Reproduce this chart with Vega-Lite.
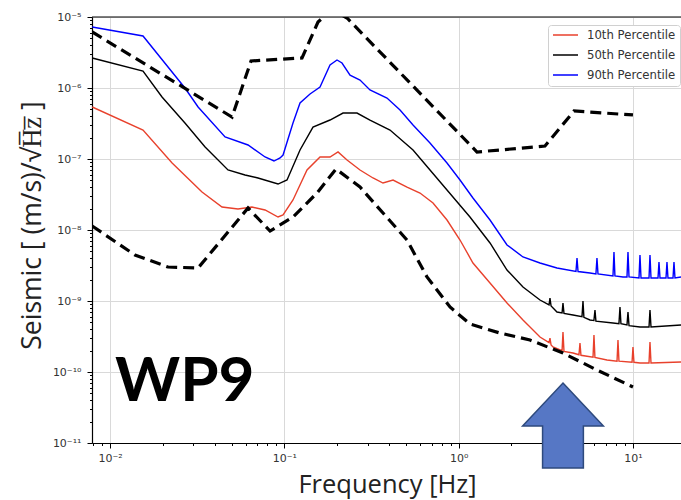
{
  "$schema": "https://vega.github.io/schema/vega-lite/v6.json",
  "width": 589,
  "height": 426,
  "autosize": {"type": "none"},
  "padding": {"left": 92, "top": 17, "right": 0, "bottom": 57},
  "config": {"view": {"stroke": null}, "font": "DejaVu Sans"},
  "datasets": {
    "pct": [
      {"f": 0.0079, "v": 7.23e-6, "s": "90th Percentile"},
      {"f": 0.01546, "v": 5.4e-6, "s": "90th Percentile"},
      {"f": 0.0269, "v": 1.0e-6, "s": "90th Percentile"},
      {"f": 0.032, "v": 5.4e-7, "s": "90th Percentile"},
      {"f": 0.0457, "v": 2.04e-7, "s": "90th Percentile"},
      {"f": 0.0619, "v": 1.575e-7, "s": "90th Percentile"},
      {"f": 0.0775, "v": 1.067e-7, "s": "90th Percentile"},
      {"f": 0.0872, "v": 9.37e-8, "s": "90th Percentile"},
      {"f": 0.0945, "v": 1.033e-7, "s": "90th Percentile"},
      {"f": 0.0983, "v": 1.138e-7, "s": "90th Percentile"},
      {"f": 0.1121, "v": 3.21e-7, "s": "90th Percentile"},
      {"f": 0.123, "v": 6.15e-7, "s": "90th Percentile"},
      {"f": 0.1404, "v": 8.23e-7, "s": "90th Percentile"},
      {"f": 0.1602, "v": 1.033e-6, "s": "90th Percentile"},
      {"f": 0.1828, "v": 2.11e-6, "s": "90th Percentile"},
      {"f": 0.2005, "v": 2.48e-6, "s": "90th Percentile"},
      {"f": 0.2142, "v": 2.25e-6, "s": "90th Percentile"},
      {"f": 0.2381, "v": 1.52e-6, "s": "90th Percentile"},
      {"f": 0.2717, "v": 1.296e-6, "s": "90th Percentile"},
      {"f": 0.3099, "v": 9.37e-7, "s": "90th Percentile"},
      {"f": 0.388, "v": 7.23e-7, "s": "90th Percentile"},
      {"f": 0.4609, "v": 4.9e-7, "s": "90th Percentile"},
      {"f": 0.5472, "v": 3.01e-7, "s": "90th Percentile"},
      {"f": 0.6848, "v": 1.68e-7, "s": "90th Percentile"},
      {"f": 0.8573, "v": 8.78e-8, "s": "90th Percentile"},
      {"f": 1.018, "v": 5.06e-8, "s": "90th Percentile"},
      {"f": 1.208, "v": 2.82e-8, "s": "90th Percentile"},
      {"f": 1.513, "v": 1.383e-8, "s": "90th Percentile"},
      {"f": 1.894, "v": 6.15e-9, "s": "90th Percentile"},
      {"f": 2.339, "v": 4.17e-9, "s": "90th Percentile"},
      {"f": 2.928, "v": 3.43e-9, "s": "90th Percentile"},
      {"f": 3.665, "v": 2.92e-9, "s": "90th Percentile"},
      {"f": 4.71, "v": 2.6e-9, "s": "90th Percentile"},
      {"f": 4.775, "v": 4.03e-9, "s": "90th Percentile"},
      {"f": 4.84, "v": 2.6e-9, "s": "90th Percentile"},
      {"f": 5.667, "v": 2.48e-9, "s": "90th Percentile"},
      {"f": 6.13, "v": 2.4e-9, "s": "90th Percentile"},
      {"f": 6.215, "v": 4.03e-9, "s": "90th Percentile"},
      {"f": 6.3, "v": 2.4e-9, "s": "90th Percentile"},
      {"f": 7.68, "v": 2.25e-9, "s": "90th Percentile"},
      {"f": 7.781, "v": 4.9e-9, "s": "90th Percentile"},
      {"f": 7.88, "v": 2.25e-9, "s": "90th Percentile"},
      {"f": 8.764, "v": 2.18e-9, "s": "90th Percentile"},
      {"f": 9.24, "v": 2.18e-9, "s": "90th Percentile"},
      {"f": 9.363, "v": 4.9e-9, "s": "90th Percentile"},
      {"f": 9.49, "v": 2.18e-9, "s": "90th Percentile"},
      {"f": 10.83, "v": 2.11e-9, "s": "90th Percentile"},
      {"f": 10.97, "v": 4.44e-9, "s": "90th Percentile"},
      {"f": 11.12, "v": 2.11e-9, "s": "90th Percentile"},
      {"f": 12.36, "v": 2.11e-9, "s": "90th Percentile"},
      {"f": 12.52, "v": 4.44e-9, "s": "90th Percentile"},
      {"f": 12.69, "v": 2.11e-9, "s": "90th Percentile"},
      {"f": 13.92, "v": 2.11e-9, "s": "90th Percentile"},
      {"f": 14.1, "v": 3.54e-9, "s": "90th Percentile"},
      {"f": 14.29, "v": 2.11e-9, "s": "90th Percentile"},
      {"f": 15.47, "v": 2.11e-9, "s": "90th Percentile"},
      {"f": 15.67, "v": 3.54e-9, "s": "90th Percentile"},
      {"f": 15.88, "v": 2.11e-9, "s": "90th Percentile"},
      {"f": 16.97, "v": 2.11e-9, "s": "90th Percentile"},
      {"f": 17.19, "v": 3.54e-9, "s": "90th Percentile"},
      {"f": 17.42, "v": 2.11e-9, "s": "90th Percentile"},
      {"f": 18.86, "v": 2.18e-9, "s": "90th Percentile"},

      {"f": 0.0079, "v": 2.65e-6, "s": "50th Percentile"},
      {"f": 0.01546, "v": 1.735e-6, "s": "50th Percentile"},
      {"f": 0.01987, "v": 7.47e-7, "s": "50th Percentile"},
      {"f": 0.0269, "v": 3.21e-7, "s": "50th Percentile"},
      {"f": 0.0351, "v": 1.476e-7, "s": "50th Percentile"},
      {"f": 0.0475, "v": 7.0e-8, "s": "50th Percentile"},
      {"f": 0.0595, "v": 5.95e-8, "s": "50th Percentile"},
      {"f": 0.0706, "v": 5.4e-8, "s": "50th Percentile"},
      {"f": 0.092, "v": 4.44e-8, "s": "50th Percentile"},
      {"f": 0.1036, "v": 5.06e-8, "s": "50th Percentile"},
      {"f": 0.123, "v": 1.339e-7, "s": "50th Percentile"},
      {"f": 0.146, "v": 2.82e-7, "s": "50th Percentile"},
      {"f": 0.1828, "v": 3.54e-7, "s": "50th Percentile"},
      {"f": 0.2171, "v": 4.44e-7, "s": "50th Percentile"},
      {"f": 0.2611, "v": 4.44e-7, "s": "50th Percentile"},
      {"f": 0.3099, "v": 3.54e-7, "s": "50th Percentile"},
      {"f": 0.4037, "v": 2.56e-7, "s": "50th Percentile"},
      {"f": 0.5472, "v": 1.339e-7, "s": "50th Percentile"},
      {"f": 0.6848, "v": 7.0e-8, "s": "50th Percentile"},
      {"f": 0.8573, "v": 3.66e-8, "s": "50th Percentile"},
      {"f": 1.161, "v": 1.524e-8, "s": "50th Percentile"},
      {"f": 1.513, "v": 6.56e-9, "s": "50th Percentile"},
      {"f": 1.894, "v": 2.73e-9, "s": "50th Percentile"},
      {"f": 2.339, "v": 1.575e-9, "s": "50th Percentile"},
      {"f": 2.928, "v": 1.033e-9, "s": "50th Percentile"},
      {"f": 3.3, "v": 8.8e-10, "s": "50th Percentile"},
      {"f": 3.341, "v": 1.1e-9, "s": "50th Percentile"},
      {"f": 3.39, "v": 8.5e-10, "s": "50th Percentile"},
      {"f": 3.665, "v": 7.0e-10, "s": "50th Percentile"},
      {"f": 3.92, "v": 6.8e-10, "s": "50th Percentile"},
      {"f": 3.967, "v": 9.37e-10, "s": "50th Percentile"},
      {"f": 4.02, "v": 6.7e-10, "s": "50th Percentile"},
      {"f": 4.529, "v": 6.35e-10, "s": "50th Percentile"},
      {"f": 5.1, "v": 6.0e-10, "s": "50th Percentile"},
      {"f": 5.167, "v": 1.0e-9, "s": "50th Percentile"},
      {"f": 5.23, "v": 5.9e-10, "s": "50th Percentile"},
      {"f": 5.667, "v": 5.4e-10, "s": "50th Percentile"},
      {"f": 5.97, "v": 5.3e-10, "s": "50th Percentile"},
      {"f": 6.054, "v": 7.47e-10, "s": "50th Percentile"},
      {"f": 6.13, "v": 5.2e-10, "s": "50th Percentile"},
      {"f": 7.68, "v": 4.9e-10, "s": "50th Percentile"},
      {"f": 8.31, "v": 4.8e-10, "s": "50th Percentile"},
      {"f": 8.423, "v": 8.23e-10, "s": "50th Percentile"},
      {"f": 8.53, "v": 4.8e-10, "s": "50th Percentile"},
      {"f": 9.24, "v": 4.6e-10, "s": "50th Percentile"},
      {"f": 9.363, "v": 7.0e-10, "s": "50th Percentile"},
      {"f": 9.49, "v": 4.5e-10, "s": "50th Percentile"},
      {"f": 10.97, "v": 4.3e-10, "s": "50th Percentile"},
      {"f": 12.36, "v": 4.3e-10, "s": "50th Percentile"},
      {"f": 12.52, "v": 7.47e-10, "s": "50th Percentile"},
      {"f": 12.69, "v": 4.3e-10, "s": "50th Percentile"},
      {"f": 18.86, "v": 4.59e-10, "s": "50th Percentile"},

      {"f": 0.0079, "v": 5.4e-7, "s": "10th Percentile"},
      {"f": 0.01546, "v": 2.56e-7, "s": "10th Percentile"},
      {"f": 0.0227, "v": 8.78e-8, "s": "10th Percentile"},
      {"f": 0.0337, "v": 3.43e-8, "s": "10th Percentile"},
      {"f": 0.0439, "v": 2.11e-8, "s": "10th Percentile"},
      {"f": 0.0542, "v": 1.976e-8, "s": "10th Percentile"},
      {"f": 0.0652, "v": 2.11e-8, "s": "10th Percentile"},
      {"f": 0.0775, "v": 1.913e-8, "s": "10th Percentile"},
      {"f": 0.092, "v": 1.524e-8, "s": "10th Percentile"},
      {"f": 0.0983, "v": 1.626e-8, "s": "10th Percentile"},
      {"f": 0.1121, "v": 2.65e-8, "s": "10th Percentile"},
      {"f": 0.1349, "v": 7.0e-8, "s": "10th Percentile"},
      {"f": 0.1602, "v": 1.067e-7, "s": "10th Percentile"},
      {"f": 0.1828, "v": 1.067e-7, "s": "10th Percentile"},
      {"f": 0.2032, "v": 1.255e-7, "s": "10th Percentile"},
      {"f": 0.2289, "v": 9.68e-8, "s": "10th Percentile"},
      {"f": 0.2717, "v": 7.0e-8, "s": "10th Percentile"},
      {"f": 0.3226, "v": 5.4e-8, "s": "10th Percentile"},
      {"f": 0.3681, "v": 4.59e-8, "s": "10th Percentile"},
      {"f": 0.4203, "v": 5.06e-8, "s": "10th Percentile"},
      {"f": 0.5055, "v": 4.03e-8, "s": "10th Percentile"},
      {"f": 0.6001, "v": 3.32e-8, "s": "10th Percentile"},
      {"f": 0.7127, "v": 2.4e-8, "s": "10th Percentile"},
      {"f": 0.8573, "v": 1.383e-8, "s": "10th Percentile"},
      {"f": 1.018, "v": 7.23e-9, "s": "10th Percentile"},
      {"f": 1.208, "v": 3.43e-9, "s": "10th Percentile"},
      {"f": 1.513, "v": 1.79e-9, "s": "10th Percentile"},
      {"f": 1.894, "v": 9.37e-10, "s": "10th Percentile"},
      {"f": 2.339, "v": 5.4e-10, "s": "10th Percentile"},
      {"f": 2.928, "v": 3.11e-10, "s": "10th Percentile"},
      {"f": 3.3, "v": 2.6e-10, "s": "10th Percentile"},
      {"f": 3.341, "v": 3.01e-10, "s": "10th Percentile"},
      {"f": 3.39, "v": 2.4e-10, "s": "10th Percentile"},
      {"f": 3.476, "v": 2.25e-10, "s": "10th Percentile"},
      {"f": 3.92, "v": 2.0e-10, "s": "10th Percentile"},
      {"f": 3.967, "v": 3.66e-10, "s": "10th Percentile"},
      {"f": 4.02, "v": 1.95e-10, "s": "10th Percentile"},
      {"f": 4.529, "v": 1.85e-10, "s": "10th Percentile"},
      {"f": 4.9, "v": 1.75e-10, "s": "10th Percentile"},
      {"f": 4.966, "v": 2.56e-10, "s": "10th Percentile"},
      {"f": 5.03, "v": 1.72e-10, "s": "10th Percentile"},
      {"f": 5.9, "v": 1.62e-10, "s": "10th Percentile"},
      {"f": 5.974, "v": 3.32e-10, "s": "10th Percentile"},
      {"f": 6.05, "v": 1.6e-10, "s": "10th Percentile"},
      {"f": 7.094, "v": 1.476e-10, "s": "10th Percentile"},
      {"f": 8.1, "v": 1.42e-10, "s": "10th Percentile"},
      {"f": 8.204, "v": 2.82e-10, "s": "10th Percentile"},
      {"f": 8.31, "v": 1.42e-10, "s": "10th Percentile"},
      {"f": 9.88, "v": 1.37e-10, "s": "10th Percentile"},
      {"f": 10.0, "v": 2.25e-10, "s": "10th Percentile"},
      {"f": 10.13, "v": 1.37e-10, "s": "10th Percentile"},
      {"f": 10.97, "v": 1.339e-10, "s": "10th Percentile"},
      {"f": 12.36, "v": 1.34e-10, "s": "10th Percentile"},
      {"f": 12.52, "v": 2.65e-10, "s": "10th Percentile"},
      {"f": 12.69, "v": 1.34e-10, "s": "10th Percentile"},
      {"f": 18.86, "v": 1.383e-10, "s": "10th Percentile"}
    ],
    "model": [
      {"f": 0.0079, "v": 6.15e-6, "m": "high"},
      {"f": 0.0501, "v": 3.9e-7, "m": "high"},
      {"f": 0.0644, "v": 2.4e-6, "m": "high"},
      {"f": 0.1263, "v": 2.65e-6, "m": "high"},
      {"f": 0.156, "v": 8.5e-6, "m": "high"},
      {"f": 0.1757, "v": 1.1e-5, "m": "high"},
      {"f": 0.2086, "v": 1.1e-5, "m": "high"},
      {"f": 0.2289, "v": 9.68e-6, "m": "high"},
      {"f": 1.274, "v": 1.255e-7, "m": "high"},
      {"f": 3.128, "v": 1.524e-7, "m": "high"},
      {"f": 4.589, "v": 4.74e-7, "m": "high"},
      {"f": 10.0, "v": 4.17e-7, "m": "high"},
      {"f": 0.0079, "v": 1.138e-8, "m": "low"},
      {"f": 0.0139, "v": 4.44e-9, "m": "low"},
      {"f": 0.0215, "v": 3.01e-9, "m": "low"},
      {"f": 0.032, "v": 2.92e-9, "m": "low"},
      {"f": 0.0619, "v": 2.04e-8, "m": "low"},
      {"f": 0.0828, "v": 9.68e-9, "m": "low"},
      {"f": 0.1121, "v": 1.524e-8, "m": "low"},
      {"f": 0.1539, "v": 3.32e-8, "m": "low"},
      {"f": 0.1979, "v": 7.23e-8, "m": "low"},
      {"f": 0.2717, "v": 4.03e-8, "m": "low"},
      {"f": 0.3681, "v": 1.735e-8, "m": "low"},
      {"f": 0.5055, "v": 7.23e-9, "m": "low"},
      {"f": 0.6582, "v": 2.18e-9, "m": "low"},
      {"f": 0.8919, "v": 8.23e-10, "m": "low"},
      {"f": 1.161, "v": 4.74e-10, "m": "low"},
      {"f": 1.726, "v": 3.54e-10, "m": "low"},
      {"f": 2.566, "v": 2.82e-10, "m": "low"},
      {"f": 3.967, "v": 1.85e-10, "m": "low"},
      {"f": 6.215, "v": 1.067e-10, "m": "low"},
      {"f": 10.0, "v": 6.15e-11, "m": "low"}
    ]
  },
  "layer": [
    {
      "data": {"name": "pct"},
      "mark": {"type": "line", "strokeWidth": 1.4, "clip": true},
      "encoding": {
        "x": {
          "field": "f", "type": "quantitative",
          "scale": {"type": "log", "domain": [0.00788, 18.86], "nice": false},
          "axis": {
            "title": "Frequency [Hz]",
            "values": [0.008, 0.009, 0.01, 0.02, 0.03, 0.04, 0.05, 0.06, 0.07, 0.08, 0.09, 0.1, 0.2, 0.3, 0.4, 0.5, 0.6, 0.7, 0.8, 0.9, 1, 2, 3, 4, 5, 6, 7, 8, 9, 10],
            "labelExpr": "abs(log(datum.value)/LN10 - round(log(datum.value)/LN10)) > 0.01 ? '' : '10' + (round(log(datum.value)/LN10) < 0 ? '⁻' : '') + (abs(round(log(datum.value)/LN10)) >= 10 ? '¹' : '') + ['⁰','¹','²','³','⁴','⁵','⁶','⁷','⁸','⁹'][abs(round(log(datum.value)/LN10)) % 10]",
            "labelFont": "DejaVu Sans", "labelFontSize": 11, "labelColor": "#333333",
            "labelPadding": 4, "labelFlush": false, "labelOverlap": false,
            "tickSize": {"condition": {"test": "abs(log(datum.value)/LN10 - round(log(datum.value)/LN10)) < 0.01", "value": 5}, "value": 2.5},
            "tickColor": "#000000",
            "domainColor": "#000000", "domainWidth": 1.2,
            "grid": true, "gridColor": "#d9d9d9",
            "gridOpacity": {"condition": {"test": "abs(log(datum.value)/LN10 - round(log(datum.value)/LN10)) < 0.01", "value": 1}, "value": 0},
            "titleFont": "Open Sans", "titleFontSize": 25.5, "titleFontWeight": "normal", "titleColor": "#222222",
            "titleX": 295, "titleY": 41, "titleBaseline": "middle", "titleAlign": "center"
          }
        },
        "y": {
          "field": "v", "type": "quantitative",
          "scale": {"type": "log", "domain": [1e-11, 1e-5], "nice": false},
          "axis": {
            "title": "Seismic [ (m/s)/√H\u0305z\u0305 ]",
            "values": [1e-11, 2e-11, 3e-11, 4e-11, 5e-11, 6e-11, 7e-11, 8e-11, 9e-11, 1e-10, 2e-10, 3e-10, 4e-10, 5e-10, 6e-10, 7e-10, 8e-10, 9e-10, 1e-9, 2e-9, 3e-9, 4e-9, 5e-9, 6e-9, 7e-9, 8e-9, 9e-9, 1e-8, 2e-8, 3e-8, 4e-8, 5e-8, 6e-8, 7e-8, 8e-8, 9e-8, 1e-7, 2e-7, 3e-7, 4e-7, 5e-7, 6e-7, 7e-7, 8e-7, 9e-7, 1e-6, 2e-6, 3e-6, 4e-6, 5e-6, 6e-6, 7e-6, 8e-6, 9e-6, 1e-5],
            "labelExpr": "abs(log(datum.value)/LN10 - round(log(datum.value)/LN10)) > 0.01 ? '' : '10' + (round(log(datum.value)/LN10) < 0 ? '⁻' : '') + (abs(round(log(datum.value)/LN10)) >= 10 ? '¹' : '') + ['⁰','¹','²','³','⁴','⁵','⁶','⁷','⁸','⁹'][abs(round(log(datum.value)/LN10)) % 10]",
            "labelFont": "DejaVu Sans", "labelFontSize": 11, "labelColor": "#333333",
            "labelPadding": 6, "labelFlush": false, "labelOverlap": false,
            "tickSize": {"condition": {"test": "abs(log(datum.value)/LN10 - round(log(datum.value)/LN10)) < 0.01", "value": 5}, "value": 2.5},
            "tickColor": "#000000",
            "domainColor": "#000000", "domainWidth": 1.2,
            "grid": true, "gridColor": "#d9d9d9",
            "gridOpacity": {"condition": {"test": "abs(log(datum.value)/LN10 - round(log(datum.value)/LN10)) < 0.01", "value": 1}, "value": 0},
            "titleFont": "Open Sans", "titleFontSize": 26.5, "titleFontWeight": "normal", "titleColor": "#222222",
            "titleX": -60, "titleY": 208, "titleBaseline": "middle", "titleAlign": "center", "titleAngle": -90
          }
        },
        "color": {
          "field": "s", "type": "nominal",
          "scale": {"domain": ["10th Percentile", "50th Percentile", "90th Percentile"], "range": ["#e8412c", "#000000", "#0000ff"]},
          "legend": {
            "title": null, "orient": "none", "legendX": 456, "legendY": 8,
            "symbolType": "M-2.5,0L2.5,0", "symbolSize": 100, "symbolStrokeWidth": 1.5, "symbolOffset": 7.5,
            "labelFont": "DejaVu Sans", "labelFontSize": 11.7, "labelColor": "#333333", "labelOffset": 15.5,
            "fillColor": "#ffffff", "strokeColor": "#d0d0d0", "cornerRadius": 3, "padding": 4, "rowPadding": 7
          }
        }
      }
    },
    {
      "data": {"name": "model"},
      "mark": {"type": "line", "color": "#000000", "strokeWidth": 3.2, "strokeDash": [11, 6], "clip": true},
      "encoding": {
        "x": {"field": "f", "type": "quantitative", "scale": {"type": "log", "domain": [0.00788, 18.86], "nice": false}},
        "y": {"field": "v", "type": "quantitative", "scale": {"type": "log", "domain": [1e-11, 1e-5], "nice": false}},
        "detail": {"field": "m", "type": "nominal"}
      }
    },
    {
      "data": {"values": [{"v": 1e-5}]},
      "mark": {"type": "rule", "color": "#000000", "strokeWidth": 1.2},
      "encoding": {
        "y": {"field": "v", "type": "quantitative", "scale": {"type": "log", "domain": [1e-11, 1e-5], "nice": false}}
      }
    },
    {
      "data": {"values": [{"f": 0.01068, "v": 3.91e-11, "label": "WP9"}]},
      "mark": {"type": "text", "font": "Lato", "fontWeight": "bold", "fontSize": 62, "align": "left", "baseline": "alphabetic", "color": "#000000"},
      "encoding": {
        "x": {"field": "f", "type": "quantitative", "scale": {"type": "log", "domain": [0.00788, 18.86], "nice": false}},
        "y": {"field": "v", "type": "quantitative", "scale": {"type": "log", "domain": [1e-11, 1e-5], "nice": false}},
        "text": {"field": "label"}
      }
    },
    {
      "data": {"values": [{"f": 3.967, "v": 1.76e-11}]},
      "mark": {"type": "point", "shape": "M0,-1 L0.95,0.01 L0.48,0.01 L0.48,1 L-0.48,1 L-0.48,0.01 L-0.95,0.01 Z", "size": 7225, "filled": true, "fill": "#5677c5", "stroke": "#2e4a7d", "strokeWidth": 1.5, "opacity": 1, "clip": false},
      "encoding": {
        "x": {"field": "f", "type": "quantitative", "scale": {"type": "log", "domain": [0.00788, 18.86], "nice": false}},
        "y": {"field": "v", "type": "quantitative", "scale": {"type": "log", "domain": [1e-11, 1e-5], "nice": false}}
      }
    }
  ]
}
